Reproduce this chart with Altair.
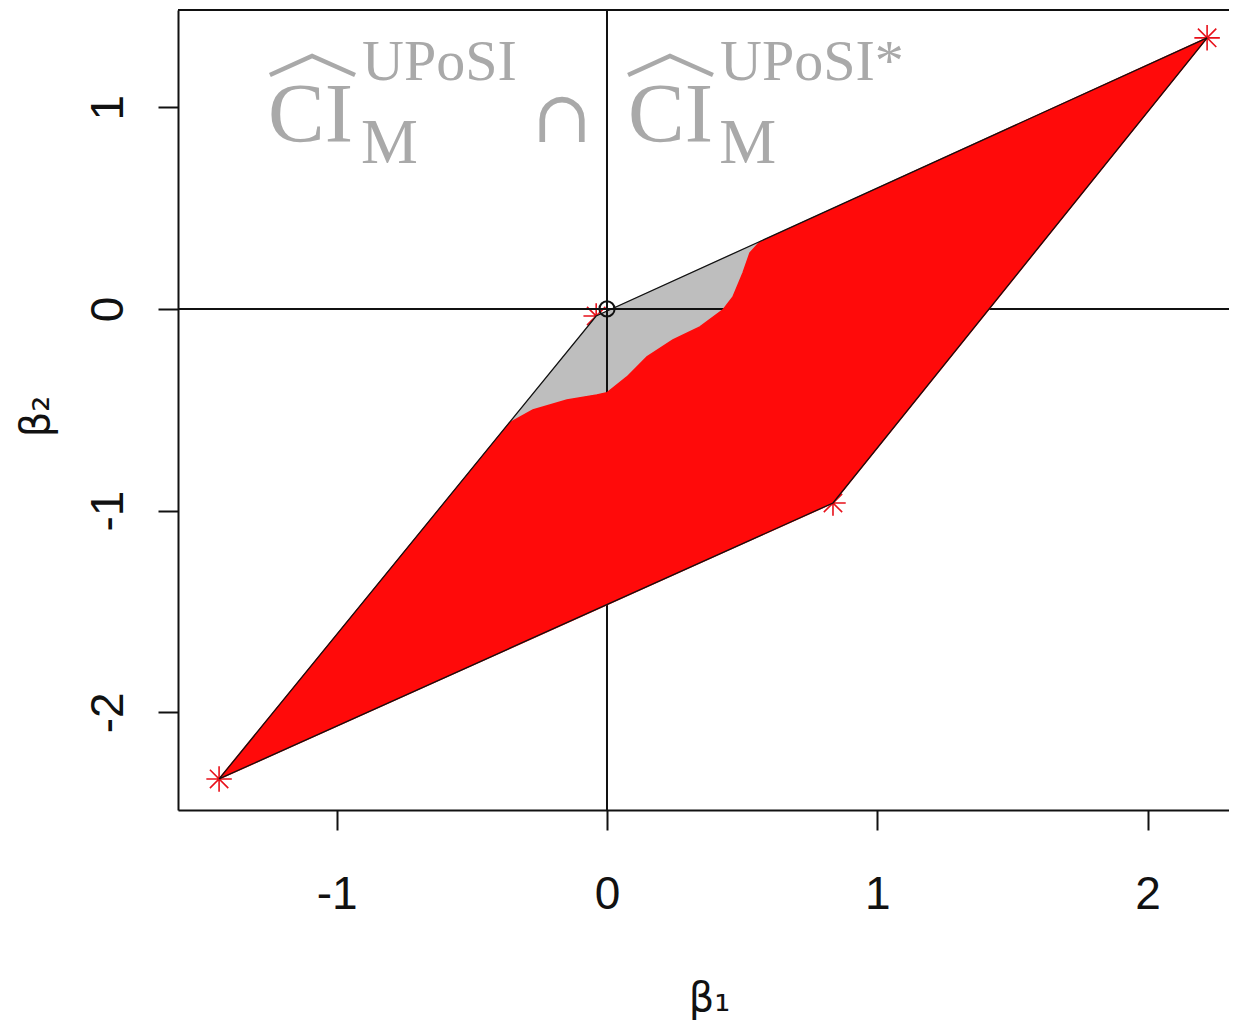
import altair as alt
import pandas as pd

# ---- data ----
# parallelogram (UPoSI region) vertices: BL, LR, TR, UL, back to BL
para_x = [-1.435, 0.836, 2.220, -0.040, -1.435]
para_y = [-2.330, -0.962, 1.344, -0.035, -2.330]

# red region (intersection) boundary
red_x = [-1.435, 0.836, 2.220, 0.566, 0.529, 0.503, 0.466, 0.429, 0.344, 0.244,
         0.148, 0.074, 0.000, -0.037, -0.148, -0.274, -0.360, -1.435]
red_y = [-2.330, -0.962, 1.344, 0.332, 0.278, 0.178, 0.059, -0.005, -0.089, -0.154,
         -0.238, -0.337, -0.416, -0.426, -0.451, -0.501, -0.565, -2.330]

x_ticks = [-1, 0, 1, 2]
y_ticks = [-2, -1, 0, 1]

# annotation text (data coordinates)
lbl_text = ["CI", "M", "UPoSI", "CI", "M", "UPoSI*"]
lbl_x = [-1.254, -0.910, -0.906, 0.078, 0.415, 0.418]
lbl_y = [0.828, 0.724, 1.135, 0.828, 0.724, 1.135]
lbl_fs = [85, 64, 58, 85, 64, 58]

cap_text = ["∩"]
cap_x = [-0.166]
cap_y = [0.828]
cap_fs = [72]

hat_id = [1, 1, 1, 2, 2, 2]
hat_x = [-1.247, -1.091, -0.932, 0.078, 0.233, 0.392]
hat_y = [1.160, 1.254, 1.160, 1.160, 1.254, 1.160]

# ---- frames ----
para = pd.DataFrame({"x": para_x, "y": para_y, "i": range(len(para_x))})
red = pd.DataFrame({"x": red_x, "y": red_y, "i": range(len(red_x))})
verts = para.iloc[:4]
origin = pd.DataFrame({"x": [0.0], "y": [0.0]})
lbl = pd.DataFrame({"t": lbl_text, "x": lbl_x, "y": lbl_y, "fs": lbl_fs})
cap = pd.DataFrame({"t": cap_text, "x": cap_x, "y": cap_y, "fs": cap_fs})
hats = pd.DataFrame({"g": hat_id, "x": hat_x, "y": hat_y, "i": range(len(hat_x))})

W, H = 1051, 800
INK = "#111111"
GREY_TXT = "#A9A9A9"

xs = alt.Scale(domain=[-1.587, 2.301], nice=False, zero=False)
ys = alt.Scale(domain=[-2.484, 1.482], nice=False, zero=False)

xaxis = alt.Axis(values=x_ticks, grid=False, tickSize=20, tickWidth=2, tickColor=INK,
                 domainColor=INK, domainWidth=2, labelFontSize=46, labelFont="Liberation Sans",
                 labelColor=INK, labelPadding=42, labelFlush=False, labelOverlap=False,
                 labelExpr="'' + datum.value",
                 title="β₁", titleFont="DejaVu Sans", titleFontSize=40, titleFontWeight="normal",
                 titleColor=INK, titleX=531, titleY=200, titleAlign="center",
                 titleBaseline="alphabetic")
yaxis = alt.Axis(values=y_ticks, grid=False, tickSize=20, tickWidth=2, tickColor=INK,
                 domainColor=INK, domainWidth=2, labelFontSize=46, labelFont="Liberation Sans",
                 labelColor=INK, labelPadding=36, labelAngle=-90, labelAlign="center",
                 labelBaseline="alphabetic", labelOverlap=False, labelFlush=False,
                 labelExpr="'' + datum.value",
                 title="β₂", titleFont="DejaVu Sans", titleFontSize=40, titleFontWeight="normal",
                 titleColor=INK, titleAngle=-90, titleX=-130, titleY=406, titleAlign="center",
                 titleBaseline="alphabetic")

X = alt.X("x:Q", scale=xs, axis=xaxis)
Y = alt.Y("y:Q", scale=ys, axis=yaxis)

ASTER = "M-1,0L1,0M0,-1L0,1M-0.72,-0.72L0.72,0.72M-0.72,0.72L0.72,-0.72"

stars = alt.Chart(verts).mark_point(shape=ASTER, size=650, filled=False, stroke="#E8101A",
                                    strokeWidth=1.6, opacity=1).encode(x=X, y=Y)

grey_poly = alt.Chart(para).mark_line(fill="#BEBEBE", stroke="#BEBEBE", strokeWidth=0.5).encode(
    x=X, y=Y, order="i:Q")

vline = alt.Chart(origin).mark_rule(color=INK, strokeWidth=2).encode(x=X)
hline = alt.Chart(origin).mark_rule(color=INK, strokeWidth=2).encode(y=Y)

red_poly = alt.Chart(red).mark_line(fill="#FF0A0A", stroke="#FF0A0A", strokeWidth=1.5).encode(
    x=X, y=Y, order="i:Q")

outline = alt.Chart(para).mark_line(stroke=INK, strokeWidth=1.3).encode(x=X, y=Y, order="i:Q")

circ = alt.Chart(origin).mark_point(shape="circle", size=230, filled=False, stroke=INK,
                                    strokeWidth=2, opacity=1).encode(x=X, y=Y)

top_border = alt.Chart(pd.DataFrame({"a": [0]})).mark_rule(color=INK, strokeWidth=2).encode(
    x=alt.value(0), x2=alt.value(W), y=alt.value(0))

labels = alt.Chart(lbl).mark_text(font="Liberation Serif", color=GREY_TXT, align="left",
                                  baseline="alphabetic").encode(
    x=X, y=Y, text="t:N", size=alt.Size("fs:Q", scale=None, legend=None))

capm = alt.Chart(cap).mark_text(font="DejaVu Serif", color=GREY_TXT, align="center",
                                baseline="alphabetic").encode(
    x=X, y=Y, text="t:N", size=alt.Size("fs:Q", scale=None, legend=None))

hat_lines = alt.Chart(hats).mark_line(color=GREY_TXT, strokeWidth=4.5, strokeJoin="miter").encode(
    x=X, y=Y, detail="g:N", order="i:Q")

chart = alt.layer(
    stars, grey_poly, vline, hline, red_poly, outline, circ, top_border,
    labels, capm, hat_lines
).properties(
    width=W, height=H,
    autosize=alt.AutoSizeParams(type="none"),
    padding={"left": 170, "top": 2, "right": 0, "bottom": 211},
).configure_view(strokeOpacity=0).configure(background="white")

chart.save("out.html", embed_options={"renderer": "svg", "actions": False})
